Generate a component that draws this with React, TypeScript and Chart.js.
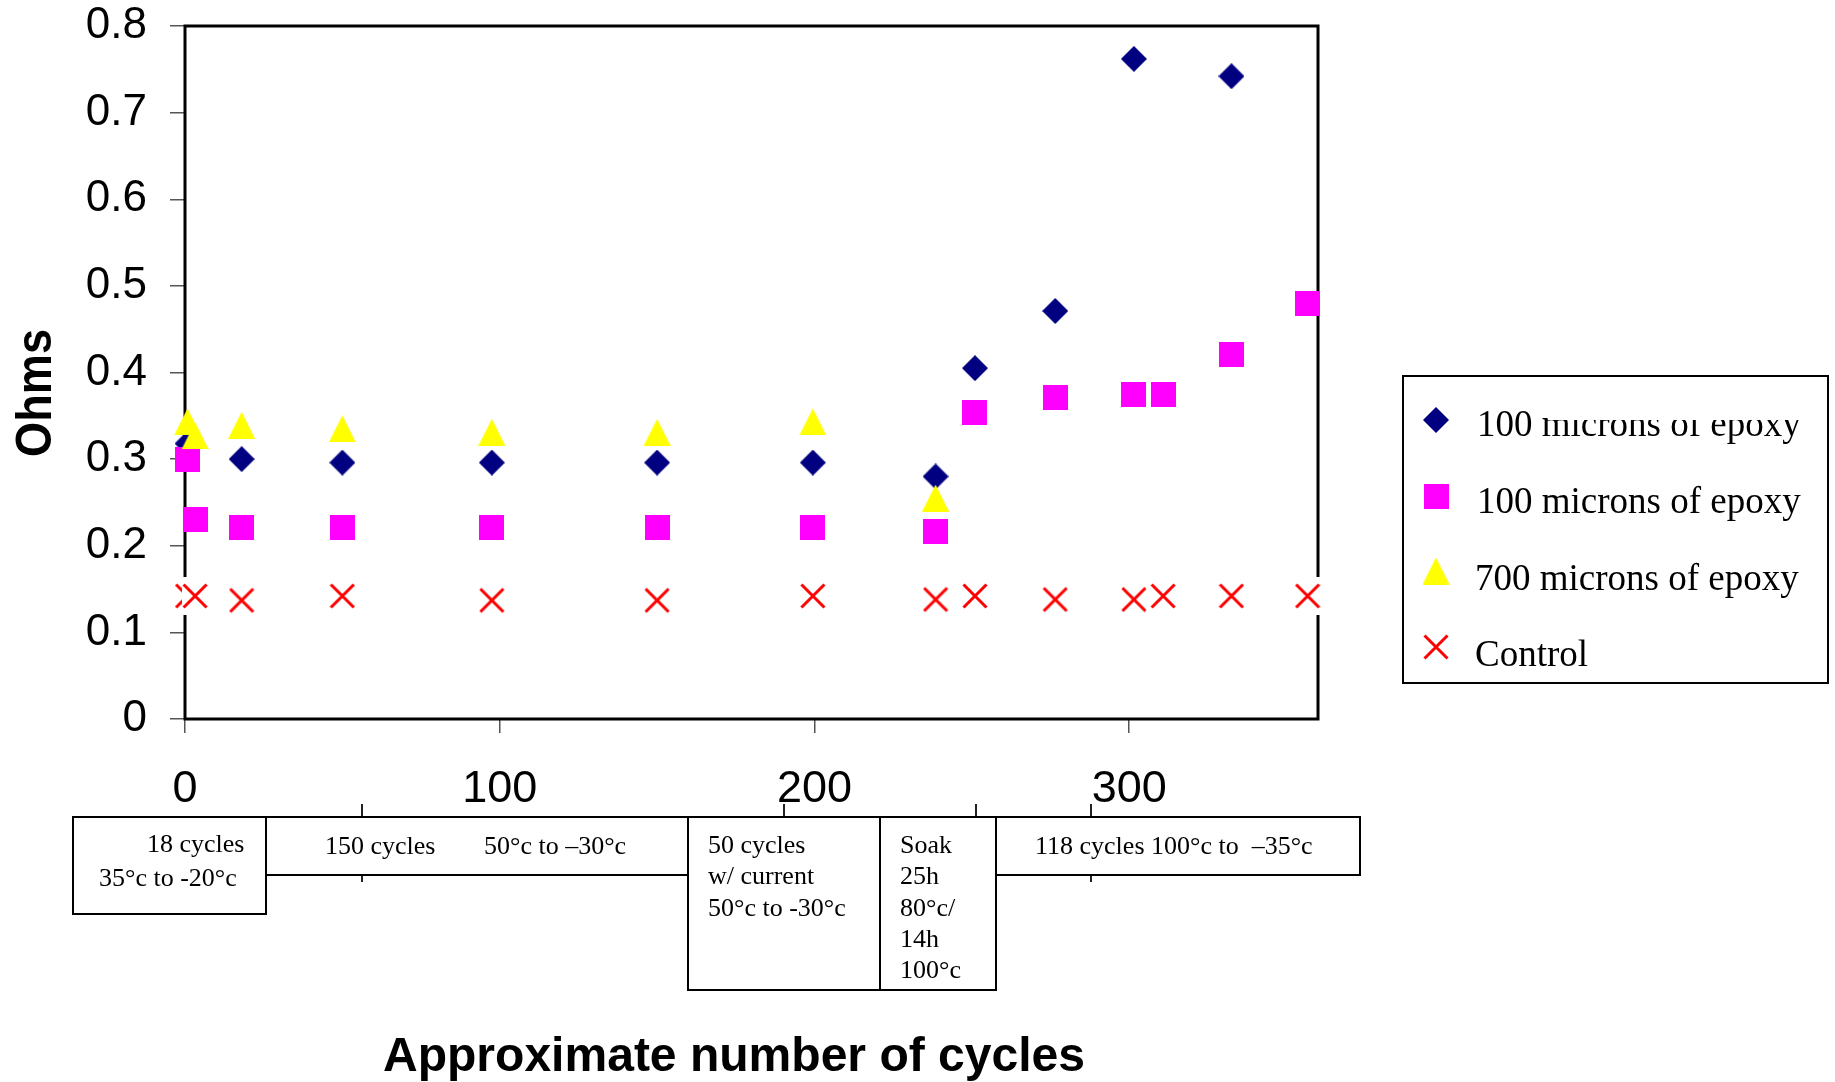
import React, { useEffect, useRef } from "react";
import { Chart, registerables } from "chart.js";

Chart.register(...registerables);

// ---------- data ----------
const SERIES_LABELS = [
  "100 microns of epoxy",
  "100 microns of epoxy",
  "700 microns of epoxy",
  "Control",
];
const SERIES_COLORS = ["#000080", "#FF00FF", "#FFFF00", "#FF0000"];

const EPOXY_A_X = [0.8, 18, 50, 97.5, 150, 199.5, 238.5, 251, 276.5, 301.5, 332.5];
const EPOXY_A_Y = [0.318, 0.3, 0.296, 0.296, 0.296, 0.296, 0.28, 0.405, 0.471, 0.762, 0.742];

const EPOXY_B_X = [0.8, 3.2, 18, 50, 97.5, 150, 199.5, 238.5, 251, 276.5, 301.5, 310.8, 332.5, 356.7];
const EPOXY_B_Y = [0.3, 0.23, 0.221, 0.221, 0.221, 0.221, 0.221, 0.217, 0.354, 0.371, 0.375, 0.375, 0.421, 0.48];

const EPOXY_700_X = [0.8, 3.2, 18, 50, 97.5, 150, 199.5, 238.5];
const EPOXY_700_Y = [0.343, 0.327, 0.339, 0.335, 0.331, 0.331, 0.343, 0.255];

const CONTROL_X = [0.8, 3.2, 18, 50, 97.5, 150, 199.5, 238.5, 251, 276.5, 301.5, 310.8, 332.5, 356.7];
const CONTROL_Y = [0.142, 0.142, 0.137, 0.142, 0.137, 0.137, 0.142, 0.138, 0.142, 0.138, 0.138, 0.142, 0.142, 0.142];

const X_TICKS = [0, 100, 200, 300];
const Y_TICKS = [0, 0.1, 0.2, 0.3, 0.4, 0.5, 0.6, 0.7, 0.8];
const X_MIN = 0;
const X_MAX = 360;

const X_TITLE = "Approximate number of cycles";
const Y_TITLE = "Ohms";

// text of the test-schedule boxes under the axis
const NOTE_1 = ["18 cycles", "35°c to -20°c"];
const NOTE_2 = ["150 cycles", "50°c to –30°c"];
const NOTE_3 = ["50 cycles", "w/ current", "50°c to -30°c"];
const NOTE_4 = ["Soak", "25h", "80°c/", "14h", "100°c"];
const NOTE_5 = ["118 cycles 100°c to  –35°c"];

// ---------- layout ----------
const W = 1835;
const H = 1082;
const AREA = { left: 185, right: 1318, top: 26, bottom: 719 };
const SANS = '"Liberation Sans", Arial, Helvetica, sans-serif';
const SERIF = '"Liberation Serif", "Times New Roman", Times, serif';

type NoteLayout = {
  box: [number, number, number, number];
  text: [number, number][];
};
const NOTE_LAYOUT: { lines: string[]; layout: NoteLayout }[] = [
  { lines: NOTE_1, layout: { box: [73, 817, 266, 914], text: [[147, 852], [99, 886]] } },
  { lines: NOTE_2, layout: { box: [266, 817, 688, 875], text: [[325, 854], [484, 854]] } },
  {
    lines: NOTE_3,
    layout: { box: [688, 817, 880, 990], text: [[708, 853], [708, 884], [708, 916]] },
  },
  {
    lines: NOTE_4,
    layout: {
      box: [880, 817, 996, 990],
      text: [[900, 853], [900, 884], [900, 916], [900, 947], [900, 978]],
    },
  },
  { lines: NOTE_5, layout: { box: [996, 817, 1360, 875], text: [[1035, 854]] } },
];
const NOTE_TICKS_PX = [362, 784, 976, 1091];

const LEGEND_BOX = [1403, 376, 1828, 683];
const LEGEND_ROWS = [
  { marker: [1436, 420], text: [1477, 436] },
  { marker: [1436, 496], text: [1477, 513] },
  { marker: [1436, 571], text: [1475, 590] },
  { marker: [1436, 647], text: [1475, 666] },
];

function makeMarker(w: number, h: number, draw: (ctx: CanvasRenderingContext2D) => void) {
  const c = document.createElement("canvas");
  c.width = w;
  c.height = h;
  const ctx = c.getContext("2d")!;
  draw(ctx);
  return c;
}

function buildMarkers() {
  const diamond = makeMarker(26, 26, (ctx) => {
    ctx.fillStyle = SERIES_COLORS[0];
    ctx.beginPath();
    ctx.moveTo(13, 0);
    ctx.lineTo(26, 13);
    ctx.lineTo(13, 26);
    ctx.lineTo(0, 13);
    ctx.closePath();
    ctx.fill();
  });
  const square = makeMarker(25, 25, (ctx) => {
    ctx.fillStyle = SERIES_COLORS[1];
    ctx.fillRect(0, 0, 25, 25);
  });
  const triangle = makeMarker(27, 27, (ctx) => {
    ctx.fillStyle = SERIES_COLORS[2];
    ctx.beginPath();
    ctx.moveTo(13.5, 0);
    ctx.lineTo(27, 27);
    ctx.lineTo(0, 27);
    ctx.closePath();
    ctx.fill();
  });
  const cross = makeMarker(26, 38, (ctx) => {
    ctx.fillStyle = "#ffffff";
    ctx.fillRect(0, 0, 26, 38);
    ctx.strokeStyle = SERIES_COLORS[3];
    ctx.lineWidth = 3;
    ctx.beginPath();
    ctx.moveTo(1.5, 7.5);
    ctx.lineTo(24.5, 30.5);
    ctx.moveTo(24.5, 7.5);
    ctx.lineTo(1.5, 30.5);
    ctx.stroke();
  });
  return [diamond, square, triangle, cross];
}

function fittedText(
  ctx: CanvasRenderingContext2D,
  text: string,
  font: string,
  targetWidth: number
) {
  ctx.font = font;
  const w = ctx.measureText(text).width;
  ctx.scale(targetWidth / w, 1);
  ctx.textAlign = "center";
  ctx.textBaseline = "alphabetic";
  ctx.fillText(text, 0, 0);
}

const decorPlugin = {
  id: "decor",
  beforeDatasetsDraw(chart: any) {
    const { ctx, chartArea } = chart;
    ctx.save();
    ctx.strokeStyle = "#000";
    ctx.lineWidth = 3;
    ctx.strokeRect(
      chartArea.left,
      chartArea.top,
      chartArea.right - chartArea.left,
      chartArea.bottom - chartArea.top
    );
    ctx.restore();
  },
  afterDraw(chart: any) {
    const ctx: CanvasRenderingContext2D = chart.ctx;
    ctx.save();

    // y title
    ctx.save();
    ctx.fillStyle = "#000";
    ctx.translate(51, 393);
    ctx.rotate(-Math.PI / 2);
    fittedText(ctx, Y_TITLE, `bold 50px ${SANS}`, 128);
    ctx.restore();

    // x title
    ctx.save();
    ctx.fillStyle = "#000";
    ctx.translate(734, 1071);
    fittedText(ctx, X_TITLE, `bold 48px ${SANS}`, 702);
    ctx.restore();

    // secondary tick marks beneath the schedule boxes
    ctx.strokeStyle = "#222";
    ctx.lineWidth = 2;
    ctx.beginPath();
    NOTE_TICKS_PX.forEach((x) => {
      ctx.moveTo(x, 804);
      ctx.lineTo(x, 882);
    });
    ctx.stroke();

    // schedule boxes
    NOTE_LAYOUT.forEach(({ lines, layout }) => {
      const [x0, y0, x1, y1] = layout.box;
      ctx.fillStyle = "#fff";
      ctx.fillRect(x0, y0, x1 - x0, y1 - y0);
      ctx.strokeStyle = "#000";
      ctx.lineWidth = 2;
      ctx.strokeRect(x0, y0, x1 - x0, y1 - y0);
      ctx.fillStyle = "#000";
      ctx.font = `26px ${SERIF}`;
      ctx.textAlign = "left";
      ctx.textBaseline = "alphabetic";
      lines.forEach((t, i) => {
        const [tx, ty] = layout.text[i];
        ctx.fillText(t, tx, ty);
      });
    });

    // legend
    const [lx0, ly0, lx1, ly1] = LEGEND_BOX;
    ctx.fillStyle = "#fff";
    ctx.fillRect(lx0, ly0, lx1 - lx0, ly1 - ly0);
    ctx.strokeStyle = "#000";
    ctx.lineWidth = 2;
    ctx.strokeRect(lx0, ly0, lx1 - lx0, ly1 - ly0);
    ctx.font = `37px ${SERIF}`;
    ctx.textAlign = "left";
    ctx.textBaseline = "alphabetic";
    chart.data.datasets.forEach((ds: any, i: number) => {
      const row = LEGEND_ROWS[i];
      const img = ds.pointStyle as HTMLCanvasElement;
      ctx.drawImage(img, row.marker[0] - img.width / 2, row.marker[1] - img.height / 2);
      ctx.fillStyle = "#000";
      ctx.fillText(ds.label, row.text[0], row.text[1]);
    });
    // the top of the first legend entry is hidden in the original
    ctx.fillStyle = "#fff";
    ctx.fillRect(1548, 378, 1826 - 1548, 420 - 378);

    ctx.restore();
  },
};

export default function App() {
  const ref = useRef<HTMLCanvasElement>(null);

  useEffect(() => {
    const markers = buildMarkers();
    const xs = [EPOXY_A_X, EPOXY_B_X, EPOXY_700_X, CONTROL_X];
    const ys = [EPOXY_A_Y, EPOXY_B_Y, EPOXY_700_Y, CONTROL_Y];
    const datasets = SERIES_LABELS.map((label, i) => ({
      label,
      data: xs[i].map((x, j) => ({ x, y: ys[i][j] })),
      pointStyle: markers[i],
      pointRadius: 13,
      pointHoverRadius: 13,
      backgroundColor: SERIES_COLORS[i],
      borderColor: SERIES_COLORS[i],
      showLine: false,
      clip: false as any,
      order: 4 - i,
    }));

    const chart = new Chart(ref.current!, {
      type: "scatter",
      data: { datasets },
      options: {
        animation: false,
        responsive: false,
        events: [],
        layout: {
          padding: {
            left: 0,
            top: AREA.top,
            right: W - AREA.right,
            bottom: H - AREA.bottom - 100,
          },
        },
        plugins: {
          legend: { display: false },
          tooltip: { enabled: false },
          title: { display: false },
        },
        scales: {
          x: {
            type: "linear",
            position: "bottom",
            min: X_MIN,
            max: X_MAX,
            afterBuildTicks: (scale: any) => {
              scale.ticks = X_TICKS.map((v) => ({ value: v }));
            },
            afterFit: (scale: any) => {
              scale.height = 100;
              scale.paddingLeft = 0;
              scale.paddingRight = 0;
            },
            grid: {
              drawOnChartArea: false,
              drawTicks: true,
              tickLength: 14,
              color: "#555",
              lineWidth: 1.5,
            },
            border: { display: false },
            ticks: {
              color: "#000",
              padding: 30,
              maxRotation: 0,
              autoSkip: false,
              font: { family: SANS, size: 45 },
              callback: (v: any) => String(v),
            },
          },
          y: {
            type: "linear",
            min: 0,
            max: 0.8,
            afterBuildTicks: (scale: any) => {
              scale.ticks = Y_TICKS.map((v) => ({ value: v }));
            },
            afterFit: (scale: any) => {
              scale.width = AREA.left;
              scale.paddingTop = 0;
              scale.paddingBottom = 0;
            },
            grid: {
              drawOnChartArea: false,
              drawTicks: true,
              tickLength: 15,
              color: "#555",
              lineWidth: 1.5,
            },
            border: { display: false },
            ticks: {
              color: "#000",
              padding: 23,
              autoSkip: false,
              font: { family: SANS, size: 44 },
              callback: (v: any) => String(v),
            },
          },
        },
      },
      plugins: [decorPlugin],
    } as any);

    return () => chart.destroy();
  }, []);

  return (
    <div
      style={{
        position: "absolute",
        left: 0,
        top: 0,
        width: W,
        height: H,
        background: "#fff",
        overflow: "hidden",
      }}
    >
      <canvas ref={ref} width={W} height={H} style={{ display: "block", width: W, height: H }} />
    </div>
  );
}
